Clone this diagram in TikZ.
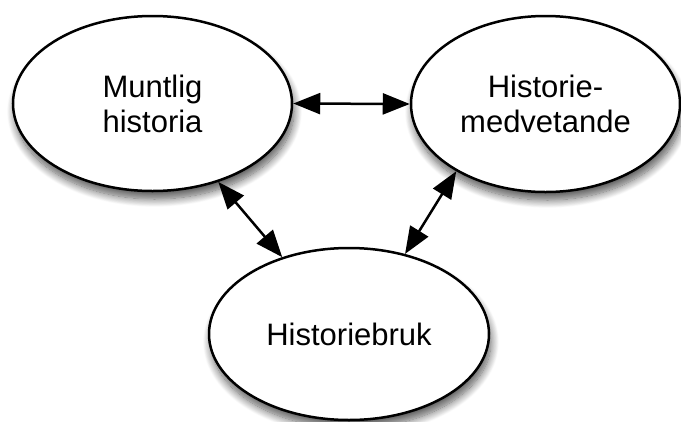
\documentclass[tikz,border=0pt]{standalone}
\usepackage{fontspec}
\setmainfont{Liberation Sans}
\usetikzlibrary{shapes.geometric,arrows.meta,shadows.blur}
\tikzset{
  bub/.style={ellipse, draw, line width=2.5pt, fill=white, inner sep=0pt,
    align=center, font=\fontsize{31}{35}\selectfont,
    blur shadow={shadow xshift=2pt, shadow yshift=-8pt, shadow blur radius=8pt,
      shadow blur steps=14, shadow opacity=65}},
  link/.style={line width=2.5pt, {Triangle[length=27pt,width=21pt]}-{Triangle[length=27pt,width=21pt]}}
}
\begin{document}
\begin{tikzpicture}[x=1pt,y=-1pt]
\useasboundingbox (0,0) rectangle (681,421);
\node[bub, minimum width=279pt, minimum height=175pt] (m) at (152.5,103.5) {Muntlig\\historia};
\node[bub, minimum width=269pt, minimum height=176pt] (h) at (545.5,104) {Historie-\\medvetande};
\node[bub, minimum width=280pt, minimum height=172pt] (b) at (349,334) {Historiebruk};
\draw[link] (m.east) -- (h.west);
\draw[link] (m.310.4) -- (b.131.1);
\draw[link] (h.217.9) -- (b.55.7);
\end{tikzpicture}
\end{document}
